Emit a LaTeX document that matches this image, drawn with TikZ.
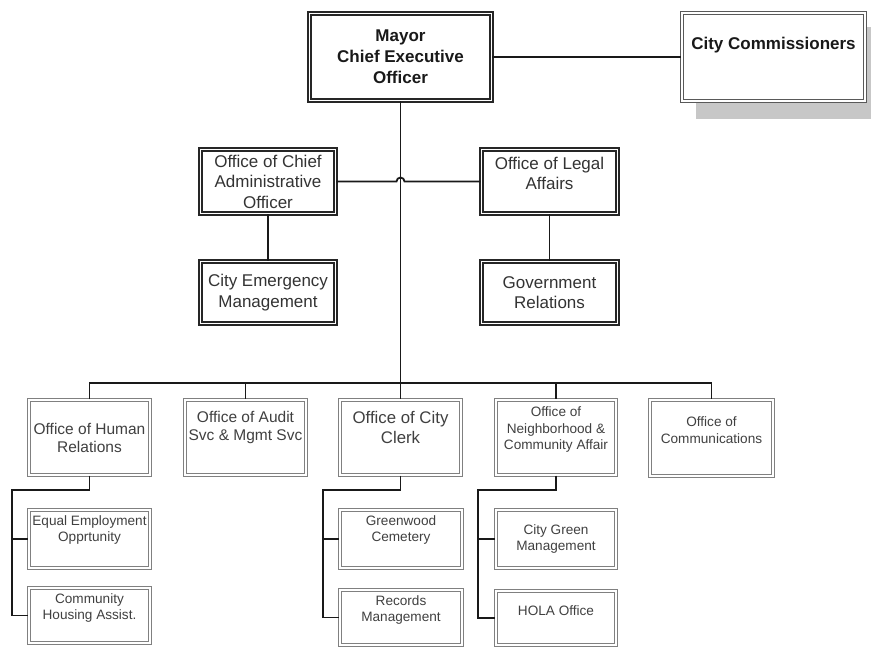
\documentclass[tikz,border=0pt]{standalone}
\usepackage{fontspec}
\setmainfont{Liberation Sans}
\usetikzlibrary{calc}

\tikzset{
  box/.style={fill=white, double=white, inner sep=0pt},
  darkbox/.style={box, draw=black!85, line width=1.8pt, double distance=1.5pt},
  lightbox/.style={box, draw=black!50, line width=1.4pt, double distance=1.3pt},
  size/.style 2 args={minimum width=#1, minimum height=#2},
  wire/.style={draw=black!90, line width=1.8pt},
  headtxt/.style={align=center, text=black!90, font=\fontsize{17}{21}\selectfont\bfseries},
  midtxt/.style={align=center, text=black!80, font=\fontsize{17}{20.5}\selectfont},
  lowtxt/.style={align=center, text=black!75, font=\fontsize{15.5}{18}\selectfont},
  subtxt/.style={align=center, text=black!75, font=\fontsize{13.6}{16.5}\selectfont},
}

\begin{document}
\begin{tikzpicture}[x=1pt, y=-1pt]
\useasboundingbox (0,0) rectangle (871,648);

% Top: mayor and the commissioners (with drop shadow)
\fill[black!22] (696,27) rectangle (871,119);
\node[darkbox, size={182}{87}] (mayor) at (400.5,57) {};
\node[lightbox, draw=black!65, size={183}{88}] (comm) at (773.5,57) {};
\node[headtxt] (mayortxt) at (mayor.center) {Mayor\\Chief Executive\\Officer};
\node[headtxt, yshift=12pt] (commtxt) at (comm.center) {City Commissioners};

% Second level offices
\node[darkbox, size={135}{64}] (cao) at (268,181.5) {};
\node[darkbox, size={136}{64}] (legal) at (549.5,181.5) {};
\node[darkbox, size={135}{62}] (emerg) at (268,292.5) {};
\node[darkbox, size={136}{62}] (govrel) at (549.5,292.5) {};
\node[midtxt] (caotxt) at (cao.center) {Office of Chief\\Administrative\\Officer};
\node[midtxt, yshift=8pt] (legaltxt) at (legal.center) {Office of Legal\\Affairs};
\node[midtxt] (emergtxt) at (emerg.center) {City Emergency\\Management};
\node[midtxt] (govreltxt) at (govrel.center) {Government\\Relations};

% Department row
\node[lightbox, size={121}{75}] (hr) at (89.5,437.5) {};
\node[lightbox, size={121}{75}] (audit) at (245.5,437.5) {};
\node[lightbox, size={121}{75}] (clerk) at (400.5,437.5) {};
\node[lightbox, size={120}{75}] (neigh) at (556,437.5) {};
\node[lightbox, size={123}{76}] (commun) at (711.5,438) {};
\node[lowtxt] (hrtxt) at (hr.center) {Office of Human\\Relations};
\node[lowtxt, yshift=10pt] (audittxt) at (audit.center) {Office of Audit\\Svc \& Mgmt Svc};
\node[lowtxt, yshift=10pt, font=\fontsize{16.8}{20}\selectfont] (clerktxt) at (clerk.center) {Office of City\\Clerk};
\node[subtxt, yshift=8pt] (neightxt) at (neigh.center) {Office of\\Neighborhood \&\\Community Affair};
\node[subtxt, yshift=8pt] (communtxt) at (commun.center) {Office of\\Communications};

% Sub units
\node[lightbox, size={121}{58}] (eeo) at (89.5,539) {};
\node[lightbox, size={121}{55}] (housing) at (89.5,615.5) {};
\node[lightbox, size={122}{58}] (cemetery) at (401,539) {};
\node[lightbox, size={122}{55}] (records) at (401,617.5) {};
\node[lightbox, size={120}{58}] (green) at (556,539) {};
\node[lightbox, size={120}{54}] (hola) at (556,618) {};
\node[subtxt, yshift=9pt] (eeotxt) at (eeo.center) {Equal Employment\\Opprtunity};
\node[subtxt, yshift=7.5pt] (housingtxt) at (housing.center) {Community\\Housing Assist.};
\node[subtxt, yshift=9pt] (cemeterytxt) at (cemetery.center) {Greenwood\\Cemetery};
\node[subtxt, yshift=7.5pt] (recordstxt) at (records.center) {Records\\Management};
\node[subtxt] (greentxt) at (green.center) {City Green\\Management};
\node[subtxt, yshift=7pt] (holatxt) at (hola.center) {HOLA Office};

% Connectors
\coordinate (bus) at (400,383);
\coordinate (hrspine) at (12,490);
\coordinate (clerkspine) at (323,490);
\coordinate (neighspine) at (478,490);

\draw[wire] (mayor.east) -- (comm.west);
\draw[wire] (mayor.south) -- (mayor.south |- bus);
\draw[wire] (cao.east) -- ($(cao.east -| mayor.south)+(-4,0)$)
  arc[start angle=180, end angle=360, radius=4] -- (legal.west);
\draw[wire] (cao.south) -- (emerg.north);
\draw[wire] (legal.south) -- (govrel.north);

% Bus to the department row
\draw[wire] (hr.north) -- (hr.north |- bus) -- (commun.north |- bus) -- (commun.north);
\foreach \d in {audit,clerk,neigh}
  \draw[wire] (\d.north |- bus) -- (\d.north);

% Sub unit spines
\draw[wire] (hr.south) |- (hrspine) -- (hrspine |- housing.west) -- (housing.west);
\draw[wire] (hrspine |- eeo.west) -- (eeo.west);
\draw[wire] (clerk.south) |- (clerkspine) -- (clerkspine |- records.west) -- (records.west);
\draw[wire] (clerkspine |- cemetery.west) -- (cemetery.west);
\draw[wire] (neigh.south) |- (neighspine) -- (neighspine |- hola.west) -- (hola.west);
\draw[wire] (neighspine |- green.west) -- (green.west);
\end{tikzpicture}
\end{document}
